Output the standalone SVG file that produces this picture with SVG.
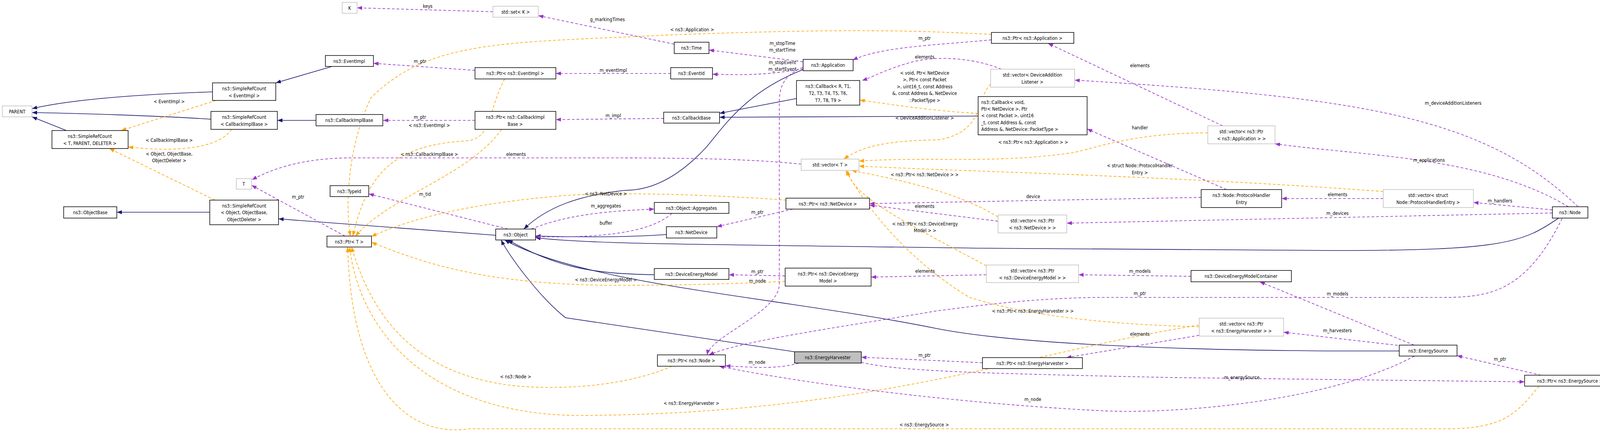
<svg xmlns="http://www.w3.org/2000/svg" width="4141" height="1113" viewBox="0 0 4141 1113">
<style>
.n rect{fill:#fff;stroke:#000;stroke-width:1.5}
.g rect{fill:#fff;stroke:#bfbfbf;stroke-width:1.5}
#EnergyHarvester rect{fill:#bfbfbf}
text{font-family:"DejaVu Sans Condensed","DejaVu Sans",sans-serif;font-size:12px;fill:#000;text-anchor:middle}
.e path{fill:none;stroke-width:1.6}
.i{stroke:#191970;marker-end:url(#ai)}
.u{stroke:#9a32cd;stroke-dasharray:7,5;marker-end:url(#au)}
.t{stroke:#ffa500;stroke-dasharray:7,5;marker-end:url(#at)}
</style>
<defs>
<marker id="ai" markerWidth="14" markerHeight="10" refX="13" refY="5" orient="auto" markerUnits="userSpaceOnUse"><path d="M0,0 L13,5 L0,10 z" fill="#191970"/></marker>
<marker id="au" markerWidth="14" markerHeight="10" refX="13" refY="5" orient="auto" markerUnits="userSpaceOnUse"><path d="M0,0 L13,5 L0,10 z" fill="#9a32cd"/></marker>
<marker id="at" markerWidth="14" markerHeight="10" refX="13" refY="5" orient="auto" markerUnits="userSpaceOnUse"><path d="M0,0 L13,5 L0,10 z" fill="#ffa500"/></marker>
</defs>
<rect width="4141" height="1113" fill="#fff"/>
<g id="edges" class="e">
<path class="i" d="M544,235 C400,240 200,250 82,278"/>
<path class="i" d="M540,305 C400,296 200,290 82,288"/>
<path class="i" d="M170,334 L82,299"/>
<path class="i" d="M850,170 L706,212"/>
<path class="i" d="M809,308 L710,308"/>
<path class="i" d="M537,543 L299,543"/>
<path class="i" d="M1269,602 L713,560"/>
<path class="i" d="M2056,178 C1900,240 1850,330 1805,380 C1720,470 1650,487 1600,487 C1480,500 1400,530 1341,586"/>
<path class="i" d="M2039,252 L1842,290"/>
<path class="i" d="M2504,297 L1842,300"/>
<path class="i" d="M1706,600 C1600,608 1450,606 1371,604"/>
<path class="i" d="M3990,558 C3900,620 3850,641 3420,641 L2500,635 C1800,625 1500,625 1371,608"/>
<path class="i" d="M1675,703 C1500,700 1420,680 1300,614"/>
<path class="i" d="M3582,898 L3400,898 C3000,895 2600,880 2400,841 C2000,760 1500,730 1292,614"/>
<path class="i" d="M2034,900 L1630,840 L1448,813 C1380,760 1300,650 1283,614"/>
<path class="u" d="M1262,30 L914,20"/>
<path class="u" d="M1726,113 L1378,40"/>
<path class="u" d="M2056,158 L1815,128"/>
<path class="u" d="M2056,176 C1950,195 1880,191 1824,190"/>
<path class="u" d="M1717,188 L1423,188"/>
<path class="u" d="M1216,180 L956,162"/>
<path class="u" d="M1699,303 L1423,306"/>
<path class="u" d="M1216,308 L981,308"/>
<path class="u" d="M2538,102 C2400,115 2250,120 2183,154"/>
<path class="u" d="M2563,177 C2500,150 2400,140 2330,160 C2260,180 2240,195 2207,206"/>
<path class="u" d="M4040,529 C3800,300 3500,250 2751,205"/>
<path class="u" d="M3130,322 L2683,111"/>
<path class="u" d="M4015,529 C3800,400 3500,400 3264,368"/>
<path class="u" d="M3140,485 L2783,330"/>
<path class="u" d="M3075,505 L2226,521"/>
<path class="u" d="M3541,508 L3281,508"/>
<path class="u" d="M3974,537 L3772,518"/>
<path class="u" d="M3974,545 L2731,571"/>
<path class="u" d="M2555,566 L2226,525"/>
<path class="u" d="M2030,535 L1835,580"/>
<path class="u" d="M1360,586 C1450,550 1550,540 1675,535"/>
<path class="u" d="M1720,546 C1660,600 1520,608 1371,606"/>
<path class="u" d="M1300,586 L944,496"/>
<path class="u" d="M883,604 L644,474"/>
<path class="u" d="M2051,420 C1900,404 1700,404 1500,404 L900,404 C780,404 700,430 645,460"/>
<path class="u" d="M2010,706 L1866,703"/>
<path class="u" d="M2525,703 L2230,709"/>
<path class="u" d="M3049,707 L2761,703"/>
<path class="u" d="M3620,883 L3225,721"/>
<path class="u" d="M3590,885 L3286,850"/>
<path class="u" d="M3070,858 L2730,915"/>
<path class="u" d="M2515,928 L2205,914"/>
<path class="u" d="M3945,960 L3730,910"/>
<path class="u" d="M2205,927 C2300,950 2500,955 3000,966 L3903,977"/>
<path class="u" d="M2045,929 C1990,945 1930,940 1857,936"/>
<path class="u" d="M3621,911 C3400,1030 3000,1060 2822,1051 C2500,1035 2100,990 1841,937"/>
<path class="u" d="M2056,172 C2010,190 1995,220 1995,260 L1995,730 C1990,800 1820,860 1810,908"/>
<path class="u" d="M3999,559 C3900,760 3800,761 3677,761 L2800,761 C2600,765 2450,790 2400,795 C2200,830 1900,870 1815,908"/>
<path class="t" d="M553,257 L310,334"/>
<path class="t" d="M593,331 C560,380 450,390 328,376"/>
<path class="t" d="M550,512 L280,380"/>
<path class="t" d="M1292,202 C1250,280 1260,350 1200,360 C1000,370 940,450 903,604"/>
<path class="t" d="M1284,331 C1200,450 1000,500 910,604"/>
<path class="t" d="M2538,88 C2300,75 2100,75 1700,90 C1300,110 1100,100 950,250 C900,350 880,500 897,604"/>
<path class="t" d="M2013,512 C1850,500 1600,490 1450,500 C1200,520 1050,560 951,605"/>
<path class="t" d="M2010,720 C1800,730 1650,730 1550,730 C1250,725 1100,680 951,620"/>
<path class="t" d="M1720,937 C1600,990 1420,1000 1300,985 C1050,950 950,800 900,632"/>
<path class="t" d="M3200,814 C2700,870 2300,1060 1480,1063 C1100,1060 920,850 895,632"/>
<path class="t" d="M3940,988 C3880,1060 3850,1097 3700,1097 L1200,1097 C1050,1120 900,1000 890,632"/>
<path class="t" d="M2536,215 C2500,250 2520,340 2400,358 C2250,360 2200,380 2160,407"/>
<path class="t" d="M2504,290 C2400,285 2300,270 2201,256"/>
<path class="t" d="M3092,340 C2900,340 2800,380 2750,390 C2550,420 2400,400 2199,412"/>
<path class="t" d="M3541,490 C3000,450 2500,440 2199,425"/>
<path class="t" d="M2555,555 C2450,490 2300,460 2180,436"/>
<path class="t" d="M2525,680 C2300,560 2180,500 2170,436"/>
<path class="t" d="M3070,836 C2800,830 2600,800 2480,760 C2300,650 2200,500 2165,436"/>
</g>
<g id="labels">
<text x="1095" y="20">keys</text>
<text x="1555" y="54">g_markingTimes</text>
<text x="2003" y="115">m_stopTime</text>
<text x="2003" y="132">m_startTime</text>
<text x="2003" y="164">m_stopEvent</text>
<text x="2003" y="181">m_startEvent</text>
<text x="1570" y="184">m_eventImpl</text>
<text x="1075" y="161">m_ptr</text>
<text x="1570" y="300">m_impl</text>
<text x="1075" y="304">m_ptr</text>
<text x="1099" y="325">&lt; ns3::EventImpl &gt;</text>
<text x="1099" y="399">&lt; ns3::CallbackImplBase &gt;</text>
<text x="1321" y="399">elements</text>
<text x="1772" y="80">&lt; ns3::Application &gt;</text>
<text x="2367" y="102">m_ptr</text>
<text x="2367" y="150">elements</text>
<text x="2367" y="191">&lt; void, Ptr&lt; NetDevice</text>
<text x="2367" y="208">&gt;, Ptr&lt; const Packet</text>
<text x="2367" y="226">&gt;, uint16_t, const Address</text>
<text x="2367" y="243">&amp;, const Address &amp;, NetDevice</text>
<text x="2367" y="261">::PacketType &gt;</text>
<text x="2367" y="306">&lt; DeviceAdditionListener &gt;</text>
<text x="2918" y="172">elements</text>
<text x="3720" y="268">m_deviceAdditionListeners</text>
<text x="2918" y="331">handler</text>
<text x="2645" y="368">&lt; ns3::Ptr&lt; ns3::Application &gt; &gt;</text>
<text x="3658" y="414">m_applications</text>
<text x="2918" y="428">&lt; struct Node::ProtocolHandler</text>
<text x="2918" y="446">Entry &gt;</text>
<text x="2367" y="451">&lt; ns3::Ptr&lt; ns3::NetDevice &gt; &gt;</text>
<text x="2645" y="507">device</text>
<text x="3424" y="502">elements</text>
<text x="3840" y="518">m_handlers</text>
<text x="3424" y="550">m_devices</text>
<text x="2367" y="532">elements</text>
<text x="1939" y="547">m_ptr</text>
<text x="1551" y="500">&lt; ns3::NetDevice &gt;</text>
<text x="1551" y="531">m_aggregates</text>
<text x="1551" y="575">buffer</text>
<text x="1088" y="501">m_tid</text>
<text x="763" y="508">m_ptr</text>
<text x="433" y="264">&lt; EventImpl &gt;</text>
<text x="433" y="363">&lt; CallbackImplBase &gt;</text>
<text x="433" y="398">&lt; Object, ObjectBase,</text>
<text x="433" y="415">ObjectDeleter &gt;</text>
<text x="2368" y="577">&lt; ns3::Ptr&lt; ns3::DeviceEnergy</text>
<text x="2368" y="594">Model &gt; &gt;</text>
<text x="1939" y="699">m_ptr</text>
<text x="1939" y="723">m_node</text>
<text x="1551" y="720">&lt; ns3::DeviceEnergyModel &gt;</text>
<text x="2368" y="698">elements</text>
<text x="2918" y="698">m_models</text>
<text x="2918" y="755">m_ptr</text>
<text x="3424" y="756">m_models</text>
<text x="2644" y="800">&lt; ns3::Ptr&lt; ns3::EnergyHarvester &gt; &gt;</text>
<text x="3424" y="850">m_harvesters</text>
<text x="2918" y="859">elements</text>
<text x="2367" y="913">m_ptr</text>
<text x="3840" y="923">m_ptr</text>
<text x="1938" y="931">m_node</text>
<text x="3179" y="970">m_energySource</text>
<text x="1320" y="968">&lt; ns3::Node &gt;</text>
<text x="2644" y="1026">m_node</text>
<text x="1770" y="1036">&lt; ns3::EnergyHarvester &gt;</text>
<text x="2366" y="1091">&lt; ns3::EnergySource &gt;</text>
</g>
<g id="PARENT" class="g"><rect x="6" y="271" width="76" height="28"/><text x="44" y="290">PARENT</text></g>
<g id="SRC_EventImpl" class="n"><rect x="544" y="212" width="162" height="45"/><text x="625" y="231">ns3::SimpleRefCount</text><text x="625" y="249">&lt; EventImpl &gt;</text></g>
<g id="SRC_CallbackImplBase" class="n"><rect x="540" y="285" width="170" height="46"/><text x="625" y="304">ns3::SimpleRefCount</text><text x="625" y="322">&lt; CallbackImplBase &gt;</text></g>
<g id="CallbackImplBase" class="n"><rect x="809" y="293" width="171" height="29"/><text x="894" y="312">ns3::CallbackImplBase</text></g>
<g id="SRC_T" class="n"><rect x="133" y="334" width="195" height="46"/><text x="230" y="353">ns3::SimpleRefCount</text><text x="230" y="371">&lt; T, PARENT, DELETER &gt;</text></g>
<g id="T" class="g"><rect x="605" y="457" width="39" height="27"/><text x="624" y="475">T</text></g>
<g id="TypeId" class="n"><rect x="845" y="475" width="99" height="28"/><text x="894" y="494">ns3::TypeId</text></g>
<g id="ObjectBase" class="n"><rect x="163" y="529" width="136" height="29"/><text x="231" y="548">ns3::ObjectBase</text></g>
<g id="SRC_Object" class="n"><rect x="537" y="512" width="176" height="63"/><text x="625" y="531">ns3::SimpleRefCount</text><text x="625" y="548">&lt; Object, ObjectBase,</text><text x="625" y="566">ObjectDeleter &gt;</text></g>
<g id="Ptr_T" class="n"><rect x="837" y="604" width="114" height="28"/><text x="894" y="623">ns3::Ptr&lt; T &gt;</text></g>
<g id="K" class="g"><rect x="876" y="6" width="38" height="28"/><text x="895" y="25">K</text></g>
<g id="std_set_K" class="g"><rect x="1262" y="16" width="116" height="28"/><text x="1320" y="35">std::set&lt; K &gt;</text></g>
<g id="Time" class="n"><rect x="1726" y="108" width="89" height="29"/><text x="1770" y="127">ns3::Time</text></g>
<g id="EventImpl" class="n"><rect x="833" y="142" width="123" height="28"/><text x="894" y="161">ns3::EventImpl</text></g>
<g id="Ptr_EventImpl" class="n"><rect x="1216" y="173" width="207" height="29"/><text x="1319" y="192">ns3::Ptr&lt; ns3::EventImpl &gt;</text></g>
<g id="EventId" class="n"><rect x="1717" y="173" width="107" height="29"/><text x="1770" y="192">ns3::EventId</text></g>
<g id="Application" class="n"><rect x="2056" y="152" width="128" height="29"/><text x="2120" y="171">ns3::Application</text></g>
<g id="Callback_R" class="n"><rect x="2039" y="206" width="162" height="63"/><text x="2120" y="225">ns3::Callback&lt; R, T1,</text><text x="2120" y="243">T2, T3, T4, T5, T6,</text><text x="2120" y="261">T7, T8, T9 &gt;</text></g>
<g id="Ptr_CallbackImplBase" class="n"><rect x="1216" y="285" width="207" height="46"/><text x="1319" y="304">ns3::Ptr&lt; ns3::CallbackImpl</text><text x="1319" y="322">Base &gt;</text></g>
<g id="CallbackBase" class="n"><rect x="1699" y="287" width="143" height="28"/><text x="1770" y="306">ns3::CallbackBase</text></g>
<g id="Ptr_Application" class="n"><rect x="2538" y="83" width="211" height="28"/><text x="2643" y="102">ns3::Ptr&lt; ns3::Application &gt;</text></g>
<g id="vec_DAL" class="g"><rect x="2536" y="177" width="215" height="46"/><text x="2643" y="196">std::vector&lt; DeviceAddition</text><text x="2643" y="214">Listener &gt;</text></g>
<g id="Callback_void" class="n"><rect x="2504" y="247" width="279" height="98"/><text x="2512" y="266" style="text-anchor:start">ns3::Callback&lt; void,</text><text x="2512" y="283" style="text-anchor:start"> Ptr&lt; NetDevice &gt;, Ptr</text><text x="2512" y="300" style="text-anchor:start">&lt; const Packet &gt;, uint16</text><text x="2512" y="318" style="text-anchor:start">_t, const Address &amp;, const</text><text x="2512" y="335" style="text-anchor:start"> Address &amp;, NetDevice::PacketType &gt;</text></g>
<g id="vec_Ptr_Application" class="g"><rect x="3092" y="322" width="172" height="46"/><text x="3178" y="341">std::vector&lt; ns3::Ptr</text><text x="3178" y="359">&lt; ns3::Application &gt; &gt;</text></g>
<g id="vec_T" class="g"><rect x="2051" y="407" width="148" height="29"/><text x="2125" y="426">std::vector&lt; T &gt;</text></g>
<g id="ProtocolHandlerEntry" class="n"><rect x="3075" y="485" width="206" height="46"/><text x="3178" y="504">ns3::Node::ProtocolHandler</text><text x="3178" y="522">Entry</text></g>
<g id="Ptr_NetDevice" class="n"><rect x="2012" y="507" width="214" height="28"/><text x="2119" y="526">ns3::Ptr&lt; ns3::NetDevice &gt;</text></g>
<g id="Object" class="n"><rect x="1269" y="586" width="102" height="28"/><text x="1320" y="605">ns3::Object</text></g>
<g id="Aggregates" class="n"><rect x="1675" y="518" width="191" height="28"/><text x="1770" y="537">ns3::Object::Aggregates</text></g>
<g id="NetDevice" class="n"><rect x="1706" y="580" width="129" height="29"/><text x="1770" y="599">ns3::NetDevice</text></g>
<g id="DeviceEnergyModel" class="n"><rect x="1675" y="687" width="191" height="28"/><text x="1770" y="706">ns3::DeviceEnergyModel</text></g>
<g id="Ptr_DEM" class="n"><rect x="2010" y="686" width="220" height="46"/><text x="2120" y="705">ns3::Ptr&lt; ns3::DeviceEnergy</text><text x="2120" y="723">Model &gt;</text></g>
<g id="vec_PHE" class="g"><rect x="3541" y="485" width="231" height="46"/><text x="3656" y="504">std::vector&lt; struct</text><text x="3656" y="522">Node::ProtocolHandlerEntry &gt;</text></g>
<g id="Node" class="n"><rect x="3974" y="529" width="91" height="29"/><text x="4019" y="548">ns3::Node</text></g>
<g id="vec_Ptr_NetDevice" class="g"><rect x="2555" y="550" width="176" height="46"/><text x="2643" y="569">std::vector&lt; ns3::Ptr</text><text x="2643" y="587">&lt; ns3::NetDevice &gt; &gt;</text></g>
<g id="vec_Ptr_DEM" class="g"><rect x="2525" y="678" width="236" height="45"/><text x="2643" y="697">std::vector&lt; ns3::Ptr</text><text x="2643" y="715">&lt; ns3::DeviceEnergyModel &gt; &gt;</text></g>
<g id="DEMContainer" class="n"><rect x="3049" y="692" width="257" height="29"/><text x="3177" y="711">ns3::DeviceEnergyModelContainer</text></g>
<g id="vec_Ptr_EH" class="g"><rect x="3070" y="814" width="216" height="46"/><text x="3178" y="833">std::vector&lt; ns3::Ptr</text><text x="3178" y="851">&lt; ns3::EnergyHarvester &gt; &gt;</text></g>
<g id="EnergySource" class="n"><rect x="3582" y="883" width="148" height="28"/><text x="3656" y="902">ns3::EnergySource</text></g>
<g id="Ptr_EH" class="n"><rect x="2515" y="915" width="256" height="28"/><text x="2643" y="934">ns3::Ptr&lt; ns3::EnergyHarvester &gt;</text></g>
<g id="Ptr_EnergySource" class="n"><rect x="3903" y="960" width="232" height="28"/><text x="4019" y="979">ns3::Ptr&lt; ns3::EnergySource &gt;</text></g>
<g id="Ptr_Node" class="n"><rect x="1683" y="908" width="174" height="29"/><text x="1770" y="927">ns3::Ptr&lt; ns3::Node &gt;</text></g>
<g id="EnergyHarvester" class="n"><rect x="2034" y="900" width="171" height="29"/><text x="2119" y="919">ns3::EnergyHarvester</text></g>
</svg>
